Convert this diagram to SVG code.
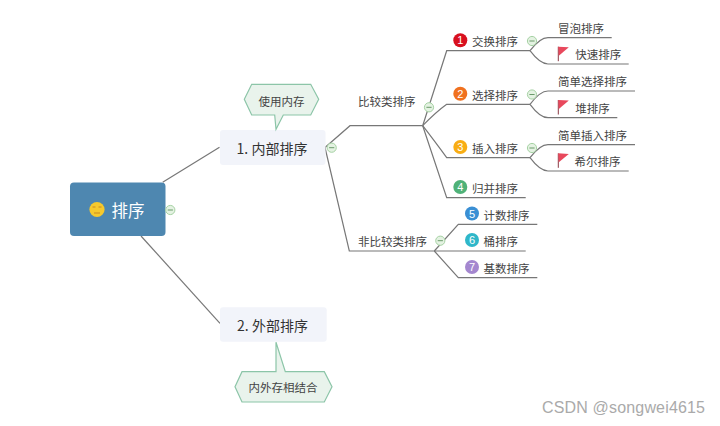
<svg xmlns="http://www.w3.org/2000/svg" width="720" height="426" viewBox="0 0 720 426">
<style>
text{font-family:"Noto Sans CJK SC","Liberation Sans",sans-serif;fill:#444}
.t{font-size:11.5px;dominant-baseline:central}
.n{font-size:14px;fill:#333;text-anchor:middle;dominant-baseline:central}
.num{font-size:11px;fill:#fff;text-anchor:middle;dominant-baseline:central;font-family:"Liberation Sans",sans-serif}
.c{fill:none;stroke:#777;stroke-width:1.2}
.callout{fill:#e9f3ec;stroke:#8cc5a8;stroke-width:1.2}
.col circle{fill:#e4f2e2;stroke:#a6d2a4;stroke-width:1}
.col line{stroke:#6a9a6a;stroke-width:1}
.flag{fill:#e8485c}
.pole{stroke:#8a3a44;stroke-width:1}
</style>
<defs>
<g id="collapse" class="col"><circle r="4.6"/><line x1="-2.6" x2="2.6" y1="0" y2="0"/></g>
<g id="flagicon"><line class="pole" x1="0" y1="0" x2="0" y2="14.5"/><polygon class="flag" points="0,0 10.5,0.6 0.5,9"/></g>
</defs>
<rect width="720" height="426" fill="#fff"/>
<g id="connectors">
<path class="c" d="M162.7 182.3L219.5 147.3"/>
<path class="c" d="M141 236L220 323.3"/>
<path class="c" d="M325 147.5L350 125.7H422.7"/>
<path class="c" d="M325 147.5L349.3 251H434.3"/>
<path class="c" d="M422.7 125.7L446.7 50.7H530"/>
<path class="c" d="M422.7 125.7Q436 112 446.7 104.3H530"/>
<path class="c" d="M422.7 125.7Q436 143 446.7 157.7H530"/>
<path class="c" d="M422.7 125.7L446.7 197.7H525.7"/>
<path class="c" d="M530 50.7Q540 37.7 548 37.7H611.7"/>
<path class="c" d="M530 50.7Q540 64 548 64H628.7"/>
<path class="c" d="M530 104.3Q540 91 548 91H635"/>
<path class="c" d="M530 104.3Q540 117.7 548 117.7H617.3"/>
<path class="c" d="M530 157.7Q540 144.7 548 144.7H635"/>
<path class="c" d="M530 157.7Q540 171 548 171H628.7"/>
<path class="c" d="M434.3 251L458.3 224.3H537.3"/>
<path class="c" d="M434.3 251H525.7"/>
<path class="c" d="M434.3 251L458.3 277.7H537.3"/>
</g>
<g id="root">
<rect x="70" y="182.5" width="95.5" height="53.5" rx="4" fill="#4e87b0"/>
<circle cx="97" cy="209.5" r="7.6" fill="#f6c92c"/>
<path d="M92.5 207h3M98.5 207h3M94 213h6" stroke="#c98a20" stroke-width="1" fill="none"/>
<text x="128" y="209.5" style="fill:#fff;font-size:16.5px;text-anchor:middle;dominant-baseline:central">排序</text>
<use href="#collapse" x="170.3" y="210"/>
</g>
<g id="node-inner">
<rect x="220" y="130" width="105.5" height="35" rx="3" fill="#f2f4fa"/>
<text class="n" x="272" y="147.5">1. 内部排序</text>
<use href="#collapse" x="331.7" y="147.7"/>
</g>
<g id="callout-inner">
<polygon class="callout" points="244.3,99.3 251.7,84.3 310.7,84.3 318.7,99.3 310.7,115 283.3,115 276,129.3 274.7,115 251.7,115"/>
<text class="t" x="281.5" y="100.5" text-anchor="middle">使用内存</text>
</g>
<g id="node-outer">
<rect x="220" y="307.3" width="106.7" height="34.4" rx="3" fill="#f2f4fa"/>
<text class="n" x="272.5" y="324.5">2. 外部排序</text>
</g>
<g id="callout-outer">
<polygon class="callout" points="235,386.7 242,371.7 276,371.7 276,342.3 285.3,371.7 324.3,371.7 332,386.7 324.3,402 242,402"/>
<text class="t" x="283" y="387" text-anchor="middle">内外存相结合</text>
</g>
<g id="compare"><text class="t" x="358" y="100.5">比较类排序</text><use href="#collapse" x="429" y="107.3"/></g>
<g id="noncompare"><text class="t" x="358" y="241">非比较类排序</text><use href="#collapse" x="440.3" y="240.7"/></g>
<g id="sort1"><circle cx="460.3" cy="40.3" r="7" fill="#d8101f"/><text class="num" x="460.3" y="40.3">1</text><text class="t" x="472" y="41">交换排序</text><use href="#collapse" x="532" y="41"/></g>
<g id="sort2"><circle cx="460.3" cy="93.7" r="7" fill="#f0711f"/><text class="num" x="460.3" y="93.7">2</text><text class="t" x="472" y="94.5">选择排序</text><use href="#collapse" x="532" y="94.5"/></g>
<g id="sort3"><circle cx="460.3" cy="147" r="7" fill="#f8ad14"/><text class="num" x="460.3" y="147">3</text><text class="t" x="472" y="148">插入排序</text><use href="#collapse" x="532" y="148"/></g>
<g id="sort4"><circle cx="460.3" cy="187" r="7" fill="#4fb278"/><text class="num" x="460.3" y="187">4</text><text class="t" x="472" y="188">归并排序</text></g>
<g id="sort5"><circle cx="472" cy="213.5" r="7" fill="#3a8fd4"/><text class="num" x="472" y="213.5">5</text><text class="t" x="483.5" y="214.5">计数排序</text></g>
<g id="sort6"><circle cx="472" cy="240" r="7" fill="#2fb7c9"/><text class="num" x="472" y="240">6</text><text class="t" x="483.5" y="241">桶排序</text></g>
<g id="sort7"><circle cx="472" cy="267" r="7" fill="#a487cf"/><text class="num" x="472" y="267">7</text><text class="t" x="483.5" y="268">基数排序</text></g>
<g id="bubble"><text class="t" x="558" y="28">冒泡排序</text></g>
<g id="quick"><use href="#flagicon" x="558.3" y="46.7"/><text class="t" x="575.3" y="54">快速排序</text></g>
<g id="simple-select"><text class="t" x="558" y="81">简单选择排序</text></g>
<g id="heap"><use href="#flagicon" x="558.3" y="100"/><text class="t" x="575.3" y="107.5">堆排序</text></g>
<g id="simple-insert"><text class="t" x="558" y="134.5">简单插入排序</text></g>
<g id="shell"><use href="#flagicon" x="558.3" y="153.3"/><text class="t" x="574.5" y="161">希尔排序</text></g>
<text x="542" y="412.5" style="font-family:'Liberation Sans',sans-serif;font-size:16px;fill:#aaa" textLength="163">CSDN @songwei4615</text>
</svg>
